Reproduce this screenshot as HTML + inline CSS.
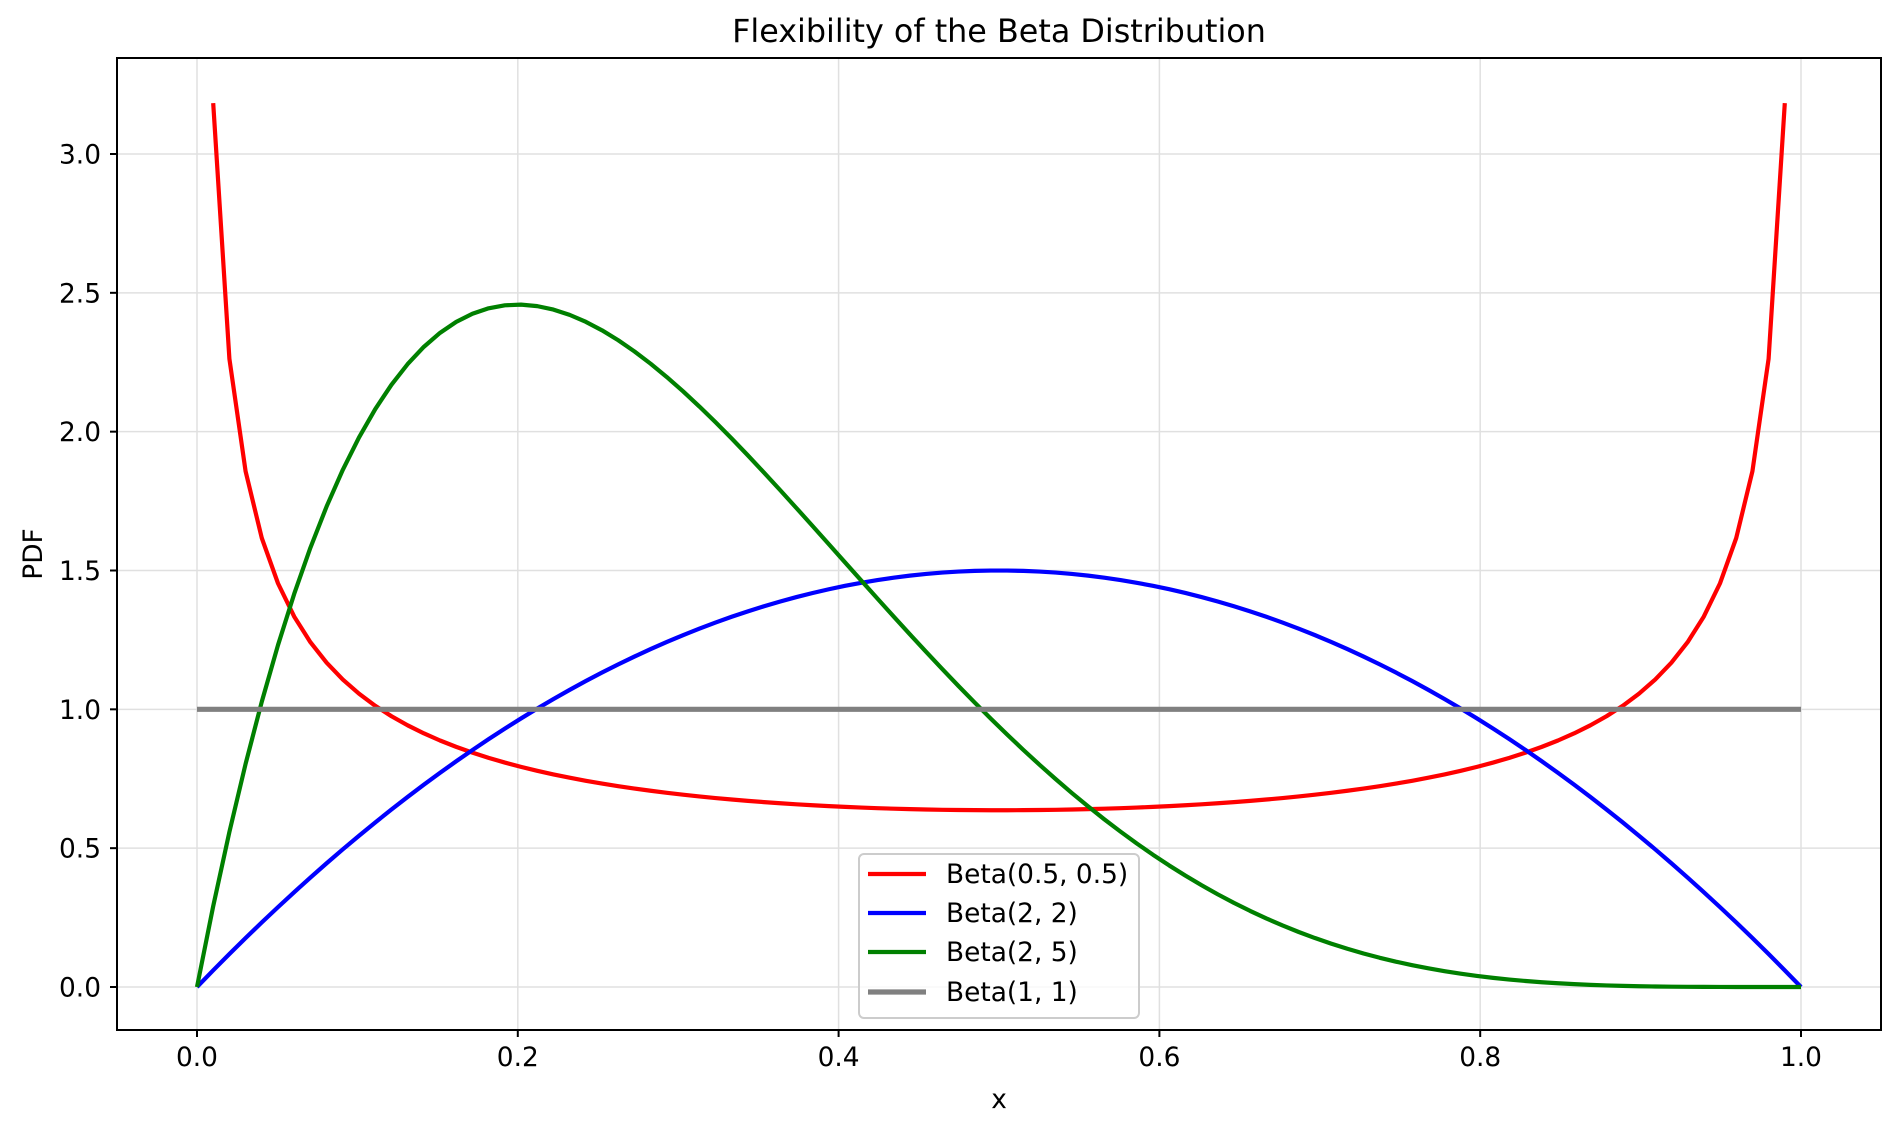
<!DOCTYPE html>
<html><head><meta charset="utf-8"><style>body{margin:0;background:#fff}svg{display:block}text{font-family:"DejaVu Sans",sans-serif;fill:#000}</style></head>
<body>
<svg id="s" width="1900" height="1132" xmlns="http://www.w3.org/2000/svg">
<rect width="1900" height="1132" fill="#fff"/>
<g id="grid" stroke="#e0e0e0" stroke-width="1.5"></g>
<g id="series" fill="none" stroke-linejoin="round"></g>
<rect x="117" y="58" width="1764" height="972" fill="none" stroke="#000" stroke-width="2"/>
<g id="ticks" stroke="#000" stroke-width="2"></g>
<g id="labels" font-size="26.4"></g>
<text x="999" y="42" font-size="31.8" text-anchor="middle">Flexibility of the Beta Distribution</text>
<text x="999" y="1108" font-size="26.4" text-anchor="middle">x</text>
<text transform="translate(42,554) rotate(-90)" font-size="26.4" text-anchor="middle">PDF</text>
<rect x="859" y="854" width="280" height="164" rx="5" fill="#fff" fill-opacity="0.8" stroke="#cccccc" stroke-width="2"/>
<line x1="868" x2="926" y1="874" y2="874" stroke="#ff0000" stroke-width="4.2"/>
<line x1="868" x2="926" y1="913" y2="913" stroke="#0000ff" stroke-width="4.2"/>
<line x1="868" x2="926" y1="952" y2="952" stroke="#008000" stroke-width="4.2"/>
<line x1="868" x2="926" y1="992" y2="992" stroke="#808080" stroke-width="5.2"/>
<g font-size="26.4"><text x="946" y="883">Beta(0.5, 0.5)</text><text x="946" y="922">Beta(2, 2)</text><text x="946" y="961">Beta(2, 5)</text><text x="946" y="1001">Beta(1, 1)</text></g>
</svg>
<script>
var X=function(v){return 197+1604*v},Y=function(v){return 987-277.67*v};
var ns="http://www.w3.org/2000/svg";
function el(p,t,a,txt){var e=document.createElementNS(ns,t);for(var k in a)e.setAttribute(k,a[k]);if(txt)e.textContent=txt;document.getElementById(p).appendChild(e);return e}
for(var i=0;i<=5;i++){var v=i*0.2,x=X(v);el('grid','line',{x1:x,x2:x,y1:58,y2:1030});el('ticks','line',{x1:x,x2:x,y1:1030,y2:1037});el('labels','text',{x:x,y:1066,'text-anchor':'middle'},v.toFixed(1));}
for(var i=0;i<=6;i++){var v=i*0.5,y=Y(v);el('grid','line',{x1:117,x2:1881,y1:y,y2:y});el('ticks','line',{x1:110,x2:117,y1:y,y2:y});el('labels','text',{x:101,y:y+9.5,'text-anchor':'end'},v.toFixed(1));}
function pts(f,s,e){var a=[];for(var i=s;i<=e;i++){var x=i/99;a.push(X(x).toFixed(2)+','+Y(f(x)).toFixed(2))}return a.join(' ')}
el('series','polyline',{points:pts(function(x){return 1/(Math.PI*Math.sqrt(x*(1-x)))},1,98),stroke:'#ff0000','stroke-width':4.2});
el('series','polyline',{points:pts(function(x){return 6*x*(1-x)},0,99),stroke:'#0000ff','stroke-width':4.2});
el('series','polyline',{points:pts(function(x){return 30*x*Math.pow(1-x,4)},0,99),stroke:'#008000','stroke-width':4.2});
el('series','polyline',{points:pts(function(x){return 1},0,99),stroke:'#808080','stroke-width':5.2});
</script>
</body></html>
